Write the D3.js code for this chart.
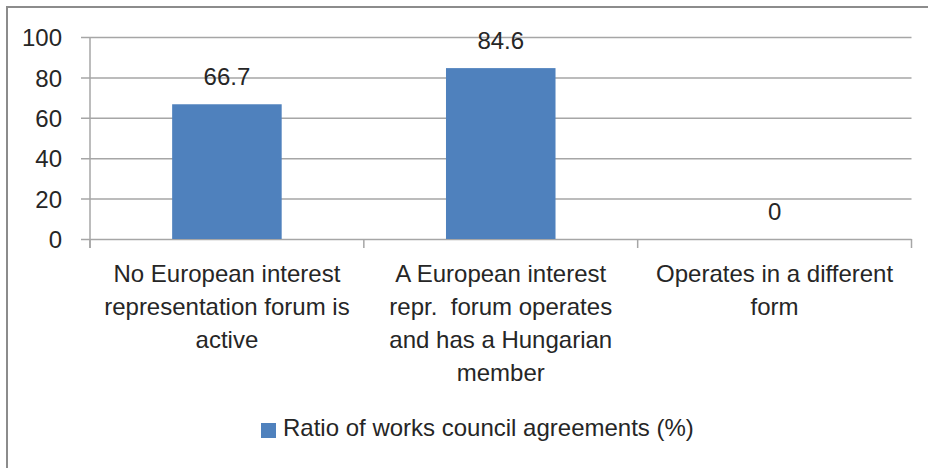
<!DOCTYPE html>
<html>
<head>
<meta charset="utf-8">
<script src="https://cdn.jsdelivr.net/npm/d3@7"></script>
<style>
  body { margin: 0; background: #fff; }
  svg { display: block; }
  text { font-family: "Liberation Sans", Arial, sans-serif; fill: #262626; }
</style>
</head>
<body>
<svg id="chart" width="928" height="468"></svg>
<script>
// data
const categories = [
    ["No European interest", "representation forum is", "active"],
    ["A European interest", "repr.  forum operates", "and has a Hungarian", "member"],
    ["Operates in a different", "form"]
];
const values = [66.7, 84.6, 0];
const yTicks = [0, 20, 40, 60, 80, 100];
const seriesName = "Ratio of works council agreements (%)";

const width = 928, height = 468;
const margin = { top: 37, right: 16.5, bottom: 229, left: 90 };
const barColor = "#4f81bd";
const gridColor = "#a6a6a6";

const svg = d3.select("#chart");

// outer frame (only top and left edges show in the picture)
svg.append("rect")
    .attr("x", 7).attr("y", 7)
    .attr("width", width + 20).attr("height", height + 20)
    .attr("fill", "none")
    .attr("stroke", "#8c8c8c")
    .attr("stroke-width", 2);

const x = d3.scaleBand()
    .domain(d3.range(categories.length))
    .range([margin.left, width - margin.right])
    .paddingInner(0.6)
    .paddingOuter(0.3);

const y = d3.scaleLinear()
    .domain([0, 100])
    .range([height - margin.bottom, margin.top]);

// grid + y axis
const yAxis = d3.axisLeft(y)
    .tickValues(yTicks)
    .tickSize(-(width - margin.right - margin.left))
    .tickPadding(28)
    .tickFormat(d3.format("d"));

const gy = svg.append("g")
    .attr("transform", "translate(" + margin.left + ",0)")
    .call(yAxis);
gy.select(".domain").remove();
gy.selectAll(".tick line")
    .attr("x1", -9)
    .attr("stroke", gridColor)
    .attr("stroke-width", 1.5);
gy.selectAll(".tick text")
    .attr("font-size", 24)
    .attr("dy", "0.36em");

// vertical axis line
svg.append("line")
    .attr("x1", margin.left).attr("x2", margin.left)
    .attr("y1", y(100)).attr("y2", y(0) + 9)
    .attr("stroke", gridColor)
    .attr("stroke-width", 1.5);

// category ticks at band boundaries
const step = x.step();
const bounds = d3.range(categories.length + 1).map(function(i) { return margin.left + i * step; });
svg.append("g").selectAll("line")
    .data(bounds)
    .join("line")
        .attr("x1", function(d) { return d; })
        .attr("x2", function(d) { return d; })
        .attr("y1", y(0))
        .attr("y2", y(0) + 9)
        .attr("stroke", gridColor)
        .attr("stroke-width", 1.5);

// bars
svg.append("g").selectAll("rect")
    .data(values)
    .join("rect")
        .attr("x", function(d, i) { return x(i); })
        .attr("y", function(d) { return y(d); })
        .attr("width", x.bandwidth())
        .attr("height", function(d) { return y(0) - y(d); })
        .attr("fill", barColor);

// value labels
svg.append("g").selectAll("text")
    .data(values)
    .join("text")
        .attr("x", function(d, i) { return x(i) + x.bandwidth() / 2; })
        .attr("y", function(d) { return y(d) - 19; })
        .attr("text-anchor", "middle")
        .attr("font-size", 24)
        .text(function(d) { return d3.format("")(d); });

// category labels
const labels = svg.append("g").selectAll("text")
    .data(categories)
    .join("text")
        .attr("text-anchor", "middle")
        .attr("font-size", 24)
        .attr("y", 282)
        .style("white-space", "pre");
labels.each(function(lines, i) {
    d3.select(this).selectAll("tspan")
        .data(lines)
        .join("tspan")
            .attr("x", x(i) + x.bandwidth() / 2)
            .attr("dy", function(d, j) { return j === 0 ? 0 : 33; })
            .text(function(d) { return d; });
});

// legend
const legend = svg.append("g")
    .attr("transform", "translate(261,423)");
legend.append("rect")
    .attr("width", 15).attr("height", 15)
    .attr("fill", barColor);
legend.append("text")
    .attr("x", 22).attr("y", 13)
    .attr("font-size", 24)
    .text(seriesName);
</script>
</body>
</html>
